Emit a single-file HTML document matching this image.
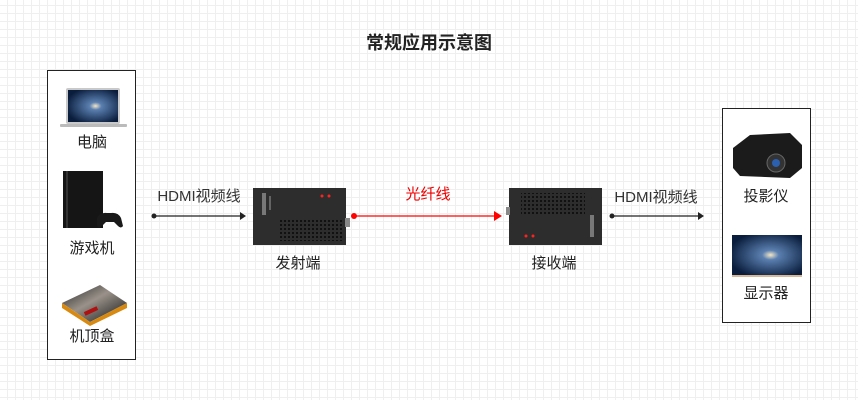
<!DOCTYPE html>
<html><head><meta charset="utf-8"><style>
html,body{margin:0;padding:0}
body{width:858px;height:400px;overflow:hidden;background-color:#fff;
background-image:linear-gradient(to right,#efefef 1px,transparent 1px),linear-gradient(to bottom,#efefef 1px,transparent 1px);
background-size:8px 8px;background-position:7px 5px;font-family:"Liberation Sans","Noto Sans CJK SC",sans-serif}
</style></head><body>
<svg width="858" height="400" xmlns="http://www.w3.org/2000/svg" style="position:absolute;left:0;top:0;font-family:'Liberation Sans','Noto Sans CJK SC',sans-serif">
<defs>
<pattern id="holes" width="4" height="4" patternUnits="userSpaceOnUse"><rect width="2" height="2" fill="#111"/></pattern>
<radialGradient id="gal" cx="0.55" cy="0.5" r="0.6"><stop offset="0" stop-color="#f4e7c8"/><stop offset="0.2" stop-color="#5a7fb0"/><stop offset="1" stop-color="#0a1d3c"/></radialGradient>
<linearGradient id="stb" x1="0" y1="0" x2="1" y2="1"><stop offset="0" stop-color="#222"/><stop offset="0.45" stop-color="#9a928a"/><stop offset="1" stop-color="#111"/></linearGradient>
</defs>
<text x="429" y="49" text-anchor="middle" font-size="18" font-weight="bold" fill="#222">常规应用示意图</text>
<rect x="47.5" y="70.5" width="88" height="289" fill="#fff" stroke="#222" stroke-width="1"/>
<rect x="66" y="88" width="54" height="36" rx="2" fill="#c9c9c9"/>
<rect x="68" y="90" width="50" height="32" fill="url(#gal)"/>
<rect x="60" y="124" width="67" height="3" rx="1" fill="#bbb"/>
<text x="92" y="147" text-anchor="middle" font-size="15" fill="#222">电脑</text>
<rect x="63" y="171" width="40" height="57" fill="#151515"/>
<rect x="66" y="171" width="2" height="57" fill="#333"/>
<path d="M97 218 q3-6 10-5 h4 q7-1 10 5 l2 8 q-2 3-5 0 l-4-4 h-8 l-4 4 q-3 3-5 0z" fill="#1a1a1a"/>
<text x="92" y="253" text-anchor="middle" font-size="15" fill="#222">游戏机</text>
<path d="M62 303 L100 285 L127 303 L90 322 Z" fill="url(#stb)"/>
<path d="M62 303 L90 322 L127 303 L127 308 L90 326 L62 308Z" fill="#d88a10"/>
<rect x="84" y="309" width="14" height="4" fill="#b01010" transform="rotate(-25 91 311)"/>
<text x="92" y="341" text-anchor="middle" font-size="15" fill="#222">机顶盒</text>
<text x="199" y="201" text-anchor="middle" font-size="15" fill="#333">HDMI视频线</text>
<line x1="154" y1="216" x2="240" y2="216" stroke="#222" stroke-width="1.3"/>
<circle cx="154" cy="216" r="2.5" fill="#222"/>
<path d="M240 212 L246 216 L240 220Z" fill="#222"/>
<rect x="253" y="188" width="93" height="57" fill="#2d2d2d"/>
<rect x="278" y="219" width="64" height="22" fill="url(#holes)"/>
<rect x="262" y="193" width="4" height="22" fill="#aaa" opacity="0.6"/>
<rect x="269" y="196" width="2" height="14" fill="#888" opacity="0.6"/>
<circle cx="322" cy="196" r="1.5" fill="#f22"/><circle cx="329" cy="196" r="1.5" fill="#f22"/>
<rect x="345" y="218" width="5" height="9" fill="#888"/>
<text x="298" y="268" text-anchor="middle" font-size="15" fill="#222">发射端</text>
<text x="428" y="199" text-anchor="middle" font-size="15" fill="#e00">光纤线</text>
<line x1="354" y1="216" x2="496" y2="216" stroke="#f00" stroke-width="1.3"/>
<circle cx="354" cy="216" r="3" fill="#f00"/>
<path d="M494 211 L502 216 L494 221Z" fill="#f00"/>
<rect x="509" y="188" width="93" height="57" fill="#2d2d2d"/>
<rect x="521" y="193" width="64" height="22" fill="url(#holes)"/>
<rect x="506" y="207" width="4" height="8" fill="#888"/>
<rect x="590" y="215" width="4" height="22" fill="#aaa" opacity="0.6"/>
<circle cx="526" cy="236" r="1.5" fill="#f22"/><circle cx="533" cy="236" r="1.5" fill="#f22"/>
<text x="554" y="268" text-anchor="middle" font-size="15" fill="#222">接收端</text>
<text x="656" y="202" text-anchor="middle" font-size="15" fill="#333">HDMI视频线</text>
<line x1="612" y1="216" x2="698" y2="216" stroke="#222" stroke-width="1.3"/>
<circle cx="612" cy="216" r="2.5" fill="#222"/>
<path d="M698 212 L704 216 L698 220Z" fill="#222"/>
<rect x="722.5" y="108.5" width="88" height="214" fill="#fff" stroke="#222" stroke-width="1"/>
<path d="M733 148 L750 135 L790 133 L802 145 L802 168 L790 178 L740 176 L733 168Z" fill="#1b1b1b"/>
<circle cx="776" cy="163" r="9" fill="#333" stroke="#666"/>
<circle cx="776" cy="163" r="4" fill="#2b5fb0"/>
<text x="766" y="201" text-anchor="middle" font-size="15" fill="#222">投影仪</text>
<rect x="732" y="235" width="70" height="40" fill="url(#gal)"/>
<rect x="732" y="275" width="70" height="2" fill="#d8b894"/>
<text x="766" y="298" text-anchor="middle" font-size="15" fill="#222">显示器</text>
</svg>
</body></html>
